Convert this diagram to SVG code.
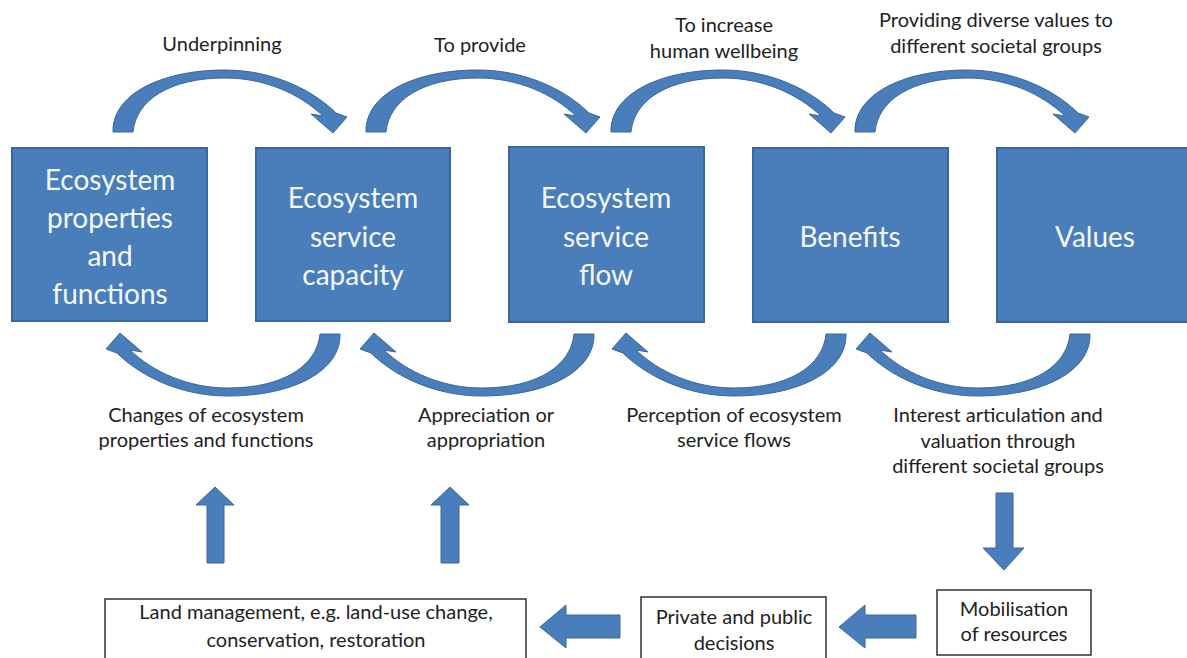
<svg xmlns="http://www.w3.org/2000/svg" width="1187" height="658" viewBox="0 0 1187 658">
<style>
.box{fill:#4a7ebb;stroke:#3a669c;stroke-width:2}
.btxt{font-family:Lato,"Liberation Sans",sans-serif;font-size:28px;fill:#f4f7fb;text-anchor:middle}
.lbl{font-family:Lato,"Liberation Sans",sans-serif;font-size:20px;fill:#222;text-anchor:middle}
.wbox{fill:#fff;stroke:#333;stroke-width:1.5}
.arr{fill:#4a7ebb;stroke:#3a669c;stroke-width:1}
</style>
<defs>
<path id="curv" d="M0,0 C-1,-37 47,-62 112,-62 C162,-62 202,-40 223,-19 L234,-15 L220,1 L198,-18 L210,-16 C187,-38 152,-54 112,-54 C57,-54 23,-32 20,0 Z"/>
</defs>
<rect width="1187" height="658" fill="#fff"/>
<g id="connectors">
<use href="#curv" class="arr" transform="translate(113,132)"/>
<use href="#curv" class="arr" transform="translate(366,132)"/>
<use href="#curv" class="arr" transform="translate(611,132)"/>
<use href="#curv" class="arr" transform="translate(855,132)"/>
<use href="#curv" class="arr" transform="translate(340,334) scale(-1,-1)"/>
<use href="#curv" class="arr" transform="translate(594,334) scale(-1,-1)"/>
<use href="#curv" class="arr" transform="translate(846,334) scale(-1,-1)"/>
<use href="#curv" class="arr" transform="translate(1090,334) scale(-1,-1)"/>
<path class="arr" d="M207,563 L207,505 L196,505 L215,487 L234,505 L224,505 L224,563 Z"/>
<path class="arr" d="M441,563 L441,505 L431,505 L450,487 L469,505 L459,505 L459,563 Z"/>
<path class="arr" d="M996,493 L1013,493 L1013,548 L1024,548 L1004,570 L983,548 L996,548 Z"/>
<path class="arr" d="M916,615 L865,615 L865,605 L839,627 L865,648 L865,638 L916,638 Z"/>
<path class="arr" d="M620,615 L566,615 L566,605 L540,627 L566,648 L566,638 L620,638 Z"/>
</g>
<g id="labels">
<text class="lbl" x="222" y="51">Underpinning</text>
<text class="lbl" x="480" y="52">To provide</text>
<text class="lbl" x="724" y="32">To increase</text>
<text class="lbl" x="724" y="58">human wellbeing</text>
<text class="lbl" x="996" y="27">Providing diverse values to</text>
<text class="lbl" x="996" y="53">different societal groups</text>
<text class="lbl" x="206" y="422">Changes of ecosystem</text>
<text class="lbl" x="206" y="447">properties and functions</text>
<text class="lbl" x="486" y="422">Appreciation or</text>
<text class="lbl" x="486" y="447">appropriation</text>
<text class="lbl" x="734" y="422">Perception of ecosystem</text>
<text class="lbl" x="734" y="447">service flows</text>
<text class="lbl" x="998" y="422">Interest articulation and</text>
<text class="lbl" x="998" y="448">valuation through</text>
<text class="lbl" x="998" y="473">different societal groups</text>
</g>
<g id="node-properties">
<rect class="box" x="12" y="148" width="195" height="173"/>
<text class="btxt" x="110" y="190">Ecosystem</text>
<text class="btxt" x="110" y="228">properties</text>
<text class="btxt" x="110" y="266">and</text>
<text class="btxt" x="110" y="304">functions</text>
</g>
<g id="node-capacity">
<rect class="box" x="256" y="148" width="194" height="173"/>
<text class="btxt" x="353" y="208">Ecosystem</text>
<text class="btxt" x="353" y="247">service</text>
<text class="btxt" x="353" y="285">capacity</text>
</g>
<g id="node-flow">
<rect class="box" x="509" y="147" width="195" height="175"/>
<text class="btxt" x="606" y="208">Ecosystem</text>
<text class="btxt" x="606" y="247">service</text>
<text class="btxt" x="606" y="285">flow</text>
</g>
<g id="node-benefits">
<rect class="box" x="753" y="148" width="195" height="174"/>
<text class="btxt" x="850" y="247">Benefits</text>
</g>
<g id="node-values">
<rect class="box" x="997" y="148" width="196" height="174"/>
<text class="btxt" x="1095" y="247">Values</text>
</g>
<g id="node-land">
<rect class="wbox" x="105" y="599" width="421" height="70"/>
<text class="lbl" x="316" y="619">Land management, e.g. land-use change,</text>
<text class="lbl" x="316" y="647">conservation, restoration</text>
</g>
<g id="node-decisions">
<rect class="wbox" x="641" y="597" width="185" height="70"/>
<text class="lbl" x="734" y="624">Private and public</text>
<text class="lbl" x="734" y="650">decisions</text>
</g>
<g id="node-mobilisation">
<rect class="wbox" x="937" y="590" width="154" height="65"/>
<text class="lbl" x="1014" y="616">Mobilisation</text>
<text class="lbl" x="1014" y="641">of resources</text>
</g>
</svg>
